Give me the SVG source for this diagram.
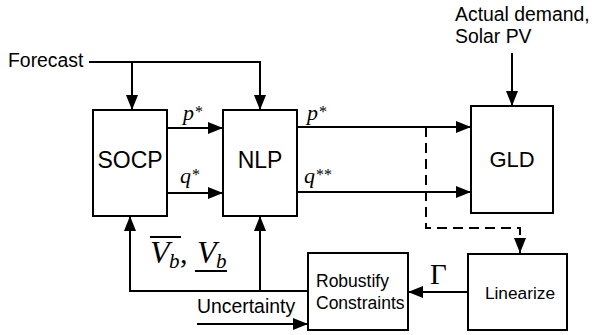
<svg xmlns="http://www.w3.org/2000/svg" width="592" height="335" viewBox="0 0 592 335">
<style>
.box{fill:#fff;stroke:#000;stroke-width:2}
.ln{fill:none;stroke:#000;stroke-width:2}
.dash{fill:none;stroke:#000;stroke-width:2;stroke-dasharray:10 6}
.sans{font-family:"Liberation Sans",Arial,sans-serif;fill:#000}
.math{font-family:"Liberation Serif","Times New Roman",serif;font-style:italic;fill:#000}
.up{font-family:"Liberation Serif","Times New Roman",serif;fill:#000}
</style>
<defs>
<marker id="ah" markerUnits="userSpaceOnUse" markerWidth="15" markerHeight="12" refX="15" refY="6" orient="auto">
<path d="M0,0 L15,6 L0,12 z" fill="#000"/>
</marker>
</defs>
<g id="connectors">
<path class="ln" d="M89,62 H260 V110" marker-end="url(#ah)"/>
<path class="ln" d="M132,62 V110" marker-end="url(#ah)"/>
<path class="ln" d="M167,128 H223" marker-end="url(#ah)"/>
<path class="ln" d="M167,193 H223" marker-end="url(#ah)"/>
<path class="ln" d="M297,127 H471" marker-end="url(#ah)"/>
<path class="ln" d="M297,192 H471" marker-end="url(#ah)"/>
<path class="ln" d="M512,53 V106" marker-end="url(#ah)"/>
<path class="dash" d="M426,127 V228 H520 V240"/>
<path class="ln" d="M520,238 V253" marker-end="url(#ah)"/>
<path class="ln" d="M468,292 H408" marker-end="url(#ah)"/>
<path class="ln" d="M308,291 H130 V216" marker-end="url(#ah)"/>
<path class="ln" d="M260,291 V216" marker-end="url(#ah)"/>
<path class="ln" d="M197,324 H308" marker-end="url(#ah)"/>
</g>
<g id="forecast"><text class="sans" x="8" y="67" font-size="19.4">Forecast</text></g>
<g id="actual"><text class="sans" x="455" y="21" font-size="19.4">Actual demand,</text><text class="sans" x="455" y="43" font-size="19.4">Solar PV</text></g>
<g id="socp"><rect class="box" x="93" y="110" width="74" height="106"/><text class="sans" x="130" y="168" font-size="23" text-anchor="middle">SOCP</text></g>
<g id="nlp"><rect class="box" x="223" y="110" width="74" height="106"/><text class="sans" x="260" y="168" font-size="23" text-anchor="middle">NLP</text></g>
<g id="gld"><rect class="box" x="471" y="106" width="82" height="107"/><text class="sans" x="512" y="167" font-size="22" text-anchor="middle">GLD</text></g>
<g id="linearize"><rect class="box" x="468" y="254" width="99" height="76"/><text class="sans" x="520" y="299" font-size="17.3" text-anchor="middle">Linearize</text></g>
<g id="robustify"><rect class="box" x="308" y="253" width="100" height="77"/><text class="sans" x="316" y="287" font-size="17.5">Robustify</text><text class="sans" x="316" y="309" font-size="17.5">Constraints</text></g>
<g id="uncertainty"><text class="sans" x="197" y="313" font-size="19.4">Uncertainty</text></g>
<g id="labels">
<text class="math" x="183" y="120" font-size="22">p</text><text class="up" x="195" y="117" font-size="16">*</text>
<text class="math" x="180" y="183" font-size="22">q</text><text class="up" x="192" y="180" font-size="16">*</text>
<text class="math" x="307" y="120" font-size="22">p</text><text class="up" x="319" y="117" font-size="16">*</text>
<text class="math" x="304" y="183" font-size="22">q</text><text class="up" x="316" y="180" font-size="16">**</text>
<text class="up" x="430" y="284" font-size="29">Γ</text>
<text class="math" x="150" y="263" font-size="32">V</text><text class="math" x="169" y="268" font-size="21">b</text><text class="up" x="180" y="263" font-size="30">,</text>
<line class="ln" x1="150" y1="237" x2="181" y2="237"/>
<text class="math" x="197" y="263" font-size="32">V</text><text class="math" x="216" y="268" font-size="21">b</text>
<line class="ln" x1="195" y1="271" x2="227" y2="271"/>
</g>
</svg>
